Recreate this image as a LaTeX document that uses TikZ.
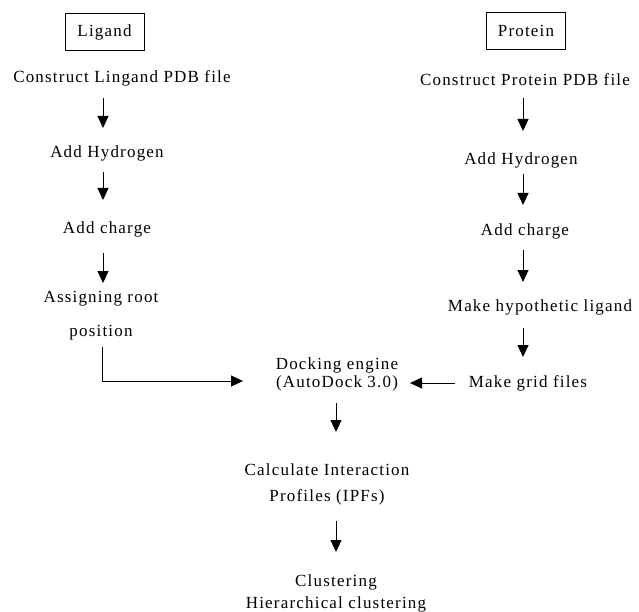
\documentclass[tikz,border=0pt]{standalone}
\usepackage{fontspec}
\setmainfont{Liberation Serif}[LetterSpace=7]
\usetikzlibrary{arrows.meta,calc}
\begin{document}
\begin{tikzpicture}[x=1pt,y=-1pt,
  txt/.style={inner sep=0pt, align=center, font=\fontsize{17}{18}\selectfont},
  hdr/.style={txt, draw, line width=0.7pt, minimum width=79pt, minimum height=37pt},
  arr/.style={line width=0.9pt, -{Triangle[length=12pt,width=11pt]}}]
\useasboundingbox (0,0) rectangle (639,612);
\coordinate (colL) at (103,0);
\coordinate (colE) at (102,0);
\coordinate (colR) at (523,0);
\coordinate (colM) at (336,0);
% boxes
\node[hdr] (lig) at (104.5,32) {Ligand};
\node[hdr] (pro) at (526,30.5) {Protein};
% left column
\node[txt] (cl) at (122,78) {Construct Lingand PDB file};
\node[txt] (ah1) at (107,153) {Add Hydrogen};
\node[txt] (ac1) at (107,229) {Add charge};
\node[txt] (asg) at (101,316) {Assigning root\\[16pt]position};
% right column
\node[txt] (cp) at (525,80) {Construct Protein PDB file};
\node[txt] (ah2) at (521,160) {Add Hydrogen};
\node[txt] (ac2) at (525,231) {Add charge};
\node[txt] (mhl) at (540,307) {Make hypothetic ligand};
\node[txt] (mgf) at (528,383) {Make grid files};
% middle
\node[txt] (dock) at (337,374) {Docking engine\\(AutoDock 3.0)};
\node[txt] (ipf) at (327,484) {Calculate Interaction\\[8pt]Profiles (IPFs)};
\node[txt] (clus) at (336,593) {Clustering\\[4pt]Hierarchical clustering};
% left arrows
\draw[arr] ($(cl.center -| colL)+(0,20)$) -- ($(ah1.center -| colL)+(0,-25)$);
\draw[arr] ($(ah1.center -| colL)+(0,19)$) -- ($(ac1.center -| colL)+(0,-29)$);
\draw[arr] ($(ac1.center -| colL)+(0,24)$) -- ($(asg.center -| colL)+(0,-33)$);
\draw[arr] ($(asg.center -| colE)+(0,31)$) |- ($(dock.center)+(-94,7)$);
% right arrows
\draw[arr] ($(cp.center -| colR)+(0,18)$) -- ($(ah2.center -| colR)+(0,-29)$);
\draw[arr] ($(ah2.center -| colR)+(0,14)$) -- ($(ac2.center -| colR)+(0,-26)$);
\draw[arr] ($(ac2.center -| colR)+(0,19)$) -- ($(mhl.center -| colR)+(0,-25)$);
\draw[arr] ($(mhl.center -| colR)+(0,21)$) -- ($(mgf.center -| colR)+(0,-26)$);
\draw[arr] ($(mgf.center)+(-73,0)$) -- ($(dock.center)+(73,9)$);
% middle arrows
\draw[arr] ($(dock.center -| colM)+(0,29)$) -- ($(ipf.center -| colM)+(0,-52)$);
\draw[arr] ($(ipf.center -| colM)+(0,37)$) -- ($(clus.center -| colM)+(0,-41)$);
\end{tikzpicture}
\end{document}
